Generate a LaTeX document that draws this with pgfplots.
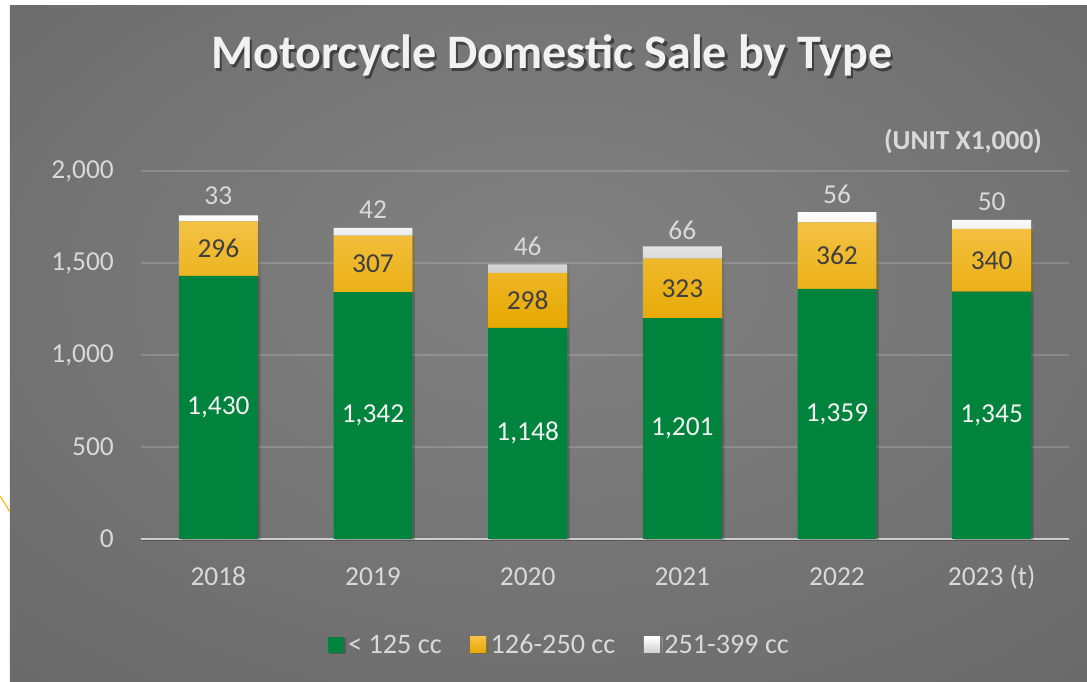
\documentclass[border=0pt]{standalone}
\usepackage{pgfplots}
\pgfplotsset{compat=1.18}
\usepackage{pgfplotstable}
\usepackage{fontspec}
\setmainfont{Carlito}
\definecolor{cgreen}{HTML}{00843D}
\definecolor{ctxt}{HTML}{D9D9D9}
\definecolor{cdark}{HTML}{3F3F3F}
\definecolor{bgin}{HTML}{828282}
\definecolor{bgmid}{HTML}{636363}
\definecolor{bgout}{HTML}{575757}
\definecolor{ytop}{HTML}{F4C244}
\definecolor{ymid}{HTML}{F2B800}
\definecolor{ybot}{HTML}{E6A800}
\definecolor{wbot}{HTML}{CFCFCF}
\pgfdeclareradialshading{bgshade}{\pgfpoint{0bp}{6bp}}{color(0bp)=(bgin); color(48bp)=(bgmid); color(72bp)=(bgout)}
\pgfplotsset{
  sqlegend/.style={legend image code/.code={\path[##1,draw=none] (0bp,-8bp) rectangle (16bp,8bp);}},
  barshadow/.style={preaction={fill=black, opacity=0.22, transform canvas={xshift=2.5bp, yshift=-1bp}}},
}
\pgfdeclarelayer{bglayer}
\pgfsetlayers{bglayer,main}
\pgfplotstableread{
x g y w
0 1430 296 33
1 1342 307 42
2 1148 298 46
3 1201 323 66
4 1359 362 56
5 1345 340 50
}\data
\newcommand{\lblfont}{\fontsize{27.5}{32}\selectfont}
\begin{document}
\begin{tikzpicture}[x=1bp,y=1bp]
\begin{axis}[
  name=ax,
  width=928bp, height=368bp, scale only axis,
  xmin=-0.5, xmax=5.5, ymin=0, ymax=2000,
  ybar stacked, bar width=0.51,
  clip=false,
  axis line style={draw=none},
  major tick length=0,
  xtick={0,...,5},
  xticklabels={2018,2019,2020,2021,2022,2023 (t)},
  ytick={0,500,1000,1500,2000},
  ymajorgrids,
  grid style={color=white, opacity=0.16, line width=1.5bp},
  tick label style={font=\lblfont, color=ctxt},
  yticklabel style={anchor=east, inner sep=0pt, xshift=-27bp},
  xticklabel style={anchor=north, inner sep=0pt, yshift=-28bp, text height=18bp},
  legend style={at={(0.451,-0.288)}, anchor=center, draw=none, fill=none,
    font=\fontsize{28.3}{32}\selectfont, text=ctxt, legend columns=3,
    nodes={inner sep=2.5bp},
    /tikz/every odd column/.append style={column sep=2bp},
    /tikz/every even column/.append style={column sep=26bp}},
  /pgf/number format/1000 sep={,},
  /pgf/number format/assume math mode=true,
]
\addplot[fill=cgreen, draw=none, barshadow, point meta=explicit,
  nodes near coords,
  every node near coord/.append style={anchor=center, inner sep=0pt, text=white!95!black, font=\lblfont},
  sqlegend]
  table[x=x, y=g, meta=g] {\data};
\addlegendentry{< 125 cc}
\addplot[top color=ytop, middle color=ymid, bottom color=ybot, draw=none, barshadow, point meta=explicit,
  nodes near coords,
  every node near coord/.append style={anchor=center, inner sep=0pt, text=cdark, font=\lblfont},
  sqlegend]
  table[x=x, y=y, meta=y] {\data};
\addlegendentry{126-250 cc}
\addplot[top color=white, middle color=white, bottom color=wbot, draw=none, barshadow, point meta=explicit,
  nodes near coords,
  every node near coord/.append style={anchor=south, inner sep=0pt, yshift=13bp, text=ctxt, font=\lblfont},
  sqlegend]
  table[x=x, y=w, meta=w] {\data};
\addlegendentry{251-399 cc}
\draw[color=black, opacity=0.25, line width=1bp] ([yshift=-1.8bp]rel axis cs:0,0) -- ([yshift=-1.8bp]rel axis cs:1,0);
\draw[color=ctxt, opacity=0.85, line width=2bp] (rel axis cs:0,0) -- (rel axis cs:1,0);
\coordinate (A) at (rel axis cs:0,0);
\end{axis}
\begin{scope}[shift={(A)}, shift={(-141,-143)}]
\begin{pgfonlayer}{bglayer}
\fill[white] (0,0) rectangle (1087,682);
\shade[shading=bgshade] (10,0) rectangle (1087,676);
\draw[color=ymid, line width=1bp] (0,186) -- (10,170);
\end{pgfonlayer}
\node[anchor=base, font=\bfseries\fontsize{48.3}{52}\selectfont, text=black, opacity=0.45] at (554.5,610.5) {Motorcycle Domestic Sale by Type};
\node[anchor=base, font=\bfseries\fontsize{48.3}{52}\selectfont, text=white!95!black] at (552,613) {Motorcycle Domestic Sale by Type};
\node[anchor=base, font=\bfseries\fontsize{27.5}{32}\selectfont, text=ctxt] at (963,532) {(UNIT X1,000)};
\pgfresetboundingbox
\path[use as bounding box] (0,0) rectangle (1087,682);
\end{scope}
\end{tikzpicture}
\end{document}
